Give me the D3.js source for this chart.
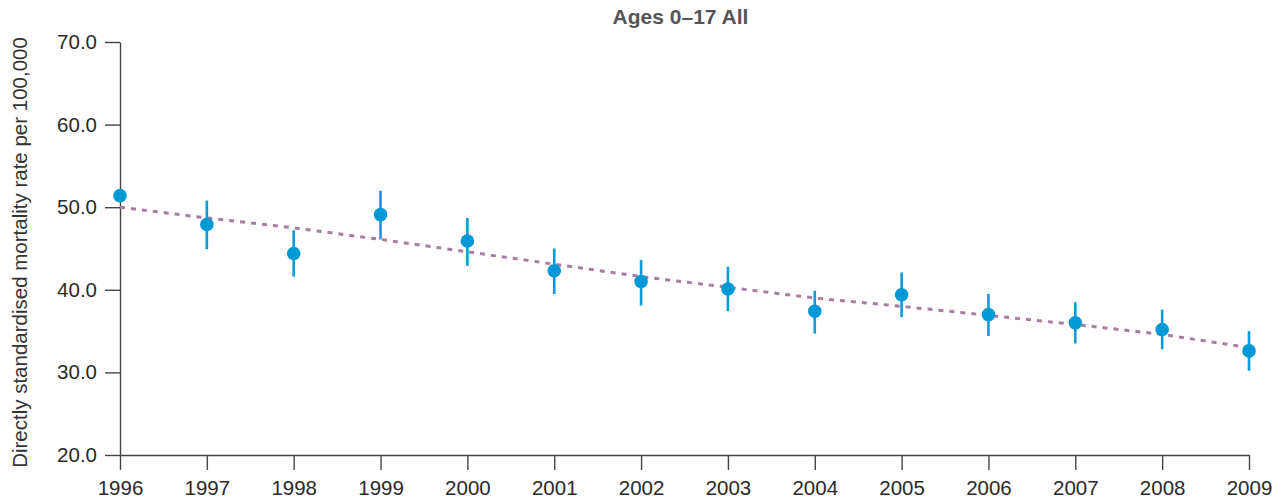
<!DOCTYPE html>
<html>
<head>
<meta charset="utf-8">
<script src="https://cdn.jsdelivr.net/npm/d3@7"></script>
<style>
  body { margin: 0; background: #fff; }
  svg { display: block; font-family: "Liberation Sans", Arial, Helvetica, sans-serif; }
</style>
</head>
<body>
<div id="chart"></div>
<script>
// data
const years = [1996, 1997, 1998, 1999, 2000, 2001, 2002, 2003, 2004, 2005, 2006, 2007, 2008, 2009];
const rates = [51.4, 47.9, 44.4, 49.1, 45.9, 42.3, 41.0, 40.1, 37.4, 39.4, 37.0, 36.0, 35.2, 32.6];
const lower = [51.4, 44.9, 41.6, 46.1, 42.9, 39.5, 38.1, 37.4, 34.7, 36.7, 34.4, 33.5, 32.8, 30.2];
const upper = [51.4, 50.8, 47.2, 52.0, 48.7, 45.0, 43.6, 42.8, 39.9, 42.1, 39.5, 38.5, 37.6, 35.0];
const trend = [50.0, 48.7, 47.5, 46.1, 44.6, 43.1, 41.6, 40.3, 39.0, 38.0, 36.9, 35.8, 34.6, 33.0];
const yTicks = [20, 30, 40, 50, 60, 70];

const W = 1282, H = 500;
const margin = { top: 42, right: 33, bottom: 45, left: 120 };
const width = W - margin.left - margin.right;
const height = H - margin.top - margin.bottom;

const svg = d3.select("#chart").append("svg")
    .attr("width", W)
    .attr("height", H);

// title
svg.append("text")
    .attr("x", margin.left + width / 2 - 4)
    .attr("y", 24)
    .attr("text-anchor", "middle")
    .style("font-size", "21px")
    .style("font-weight", "bold")
    .style("fill", "#555")
    .text("Ages 0–17 All");

const g = svg.append("g")
    .attr("transform", `translate(${margin.left},${margin.top})`);

const x = d3.scaleLinear().domain([1996, 2009]).range([0, width]);
const y = d3.scaleLinear().domain([20, 70]).range([height, 0]);

// axes
const yAxis = g.append("g")
    .call(d3.axisLeft(y).tickValues(yTicks).tickFormat(d3.format(".1f"))
        .tickSizeInner(15).tickSizeOuter(0).tickPadding(8));

const xAxis = g.append("g")
    .attr("transform", `translate(0,${height})`)
    .call(d3.axisBottom(x).tickValues(years).tickFormat(d3.format("d"))
        .tickSizeInner(15).tickSizeOuter(0).tickPadding(10));

[yAxis, xAxis].forEach(a => {
    a.select(".domain").attr("stroke", "#444").attr("stroke-width", 1.4);
    a.selectAll(".tick line").attr("stroke", "#444").attr("stroke-width", 1.4);
    a.selectAll(".tick text")
        .style("font-size", "20.5px")
        .style("fill", "#2a2a2a");
});

// y axis title
svg.append("text")
    .attr("transform", `translate(27,${margin.top + height / 2 + 4}) rotate(-90)`)
    .attr("text-anchor", "middle")
    .style("font-size", "20.5px")
    .style("fill", "#333")
    .text("Directly standardised mortality rate per 100,000");

// trend line (dotted)
g.append("path")
    .datum(years.map((yr, i) => ({ yr, v: trend[i] })))
    .attr("fill", "none")
    .attr("stroke", "#a57fa1")
    .attr("stroke-width", 3)
    .attr("stroke-dasharray", "5,6")
    .attr("d", d3.line().x(d => x(d.yr)).y(d => y(d.v)));

const pts = years.map((yr, i) => ({ yr, v: rates[i], lo: lower[i], hi: upper[i] }));

// error bars
g.selectAll(".err")
    .data(pts)
    .join("line")
      .attr("class", "err")
      .attr("x1", d => x(d.yr))
      .attr("x2", d => x(d.yr))
      .attr("y1", d => y(d.lo))
      .attr("y2", d => y(d.hi))
      .attr("stroke", "#0f9ad8")
      .attr("stroke-width", 2.6);

// points
g.selectAll(".pt")
    .data(pts)
    .join("circle")
      .attr("class", "pt")
      .attr("cx", d => x(d.yr))
      .attr("cy", d => y(d.v))
      .attr("r", 6.8)
      .attr("fill", "#0099d6");
</script>
</body>
</html>
